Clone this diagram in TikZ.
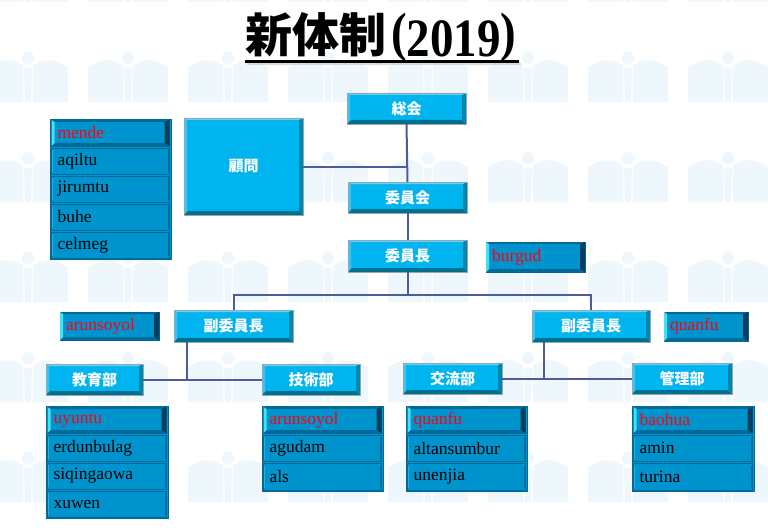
\documentclass[tikz,border=0pt]{standalone}
\usepackage{fontspec}
\newfontfamily\cjk{Noto Sans CJK JP}
\newfontfamily\tms{Liberation Serif}
\usetikzlibrary{calc}
\definecolor{bfill}{HTML}{00B4F0}
\definecolor{bdark}{HTML}{00708F}
\definecolor{bedge}{HTML}{0088AC}
\definecolor{blight}{HTML}{5AD4FA}
\definecolor{bgray}{HTML}{9AA4AA}
\definecolor{lfill}{HTML}{0094CE}
\definecolor{ldark}{HTML}{006A98}
\definecolor{lhi}{HTML}{28B0E2}
\definecolor{lnavy}{HTML}{0A3E5C}
\definecolor{lcyan}{HTML}{40E2F4}
\definecolor{conn}{HTML}{4E5C9C}
\definecolor{wm}{HTML}{EDF7FC}
\definecolor{redtxt}{HTML}{FF0010}
\tikzset{
  bst/.style={rectangle, fill=bfill, draw=bgray, line width=0.8pt, outer sep=0pt, inner sep=0pt,
    text=white, font=\cjk\bfseries\fontsize{15}{15}\selectfont},
  cellst/.style={rectangle, fill=lfill, draw=ldark, line width=0.8pt, outer sep=0pt,
    inner xsep=6pt, inner ysep=0pt, align=left, text=black, font=\tms\fontsize{17.5}{17.5}\selectfont},
  contst/.style={fill=lfill, draw=ldark, line width=0.8pt},
  connst/.style={draw=conn, line width=2pt},
}
% bright bevelled box: name, x1, y1, x2, y2, text
\newcommand\brightbox[6]{%
  \pgfmathsetmacro\bw{#4-#2}\pgfmathsetmacro\bh{#5-#3}%
  \pgfmathsetmacro\bx{(#2+#4)/2}\pgfmathsetmacro\by{(#3+#5)/2}%
  \node[bst, minimum width=\bw, minimum height=\bh] (#1) at (\bx,\by) {#6};
  \fill[blight] (#1.north west) -- (#1.north east) -- ($(#1.north east)+(-2,2)$) -- ($(#1.north west)+(2,2)$) -- cycle;
  \fill[blight!60!bfill] (#1.north west) -- ($(#1.north west)+(3,3)$) -- ($(#1.south west)+(3,-3)$) -- (#1.south west) -- cycle;
  \fill[bdark] (#1.south west) -- (#1.south east) -- ($(#1.south east)+(-4,-4)$) -- ($(#1.south west)+(4,-4)$) -- cycle;
  \fill[bedge] (#1.north east) -- (#1.south east) -- ($(#1.south east)+(-4,-4)$) -- ($(#1.north east)+(-4,2)$) -- cycle;
  \draw[bgray, line width=0.8pt] (#1.north west) rectangle (#1.south east);
}
% plain list cell
\newcommand\cell[6]{%
  \pgfmathsetmacro\cw{#4-#2}\pgfmathsetmacro\ch{#5-#3}%
  \pgfmathsetmacro\cx{(#2+#4)/2}\pgfmathsetmacro\cy{(#3+#5)/2}%
  \pgfmathsetmacro\tw{#4-#2-12}%
  \node[cellst, minimum width=\cw, minimum height=\ch, text width=\tw pt] (#1) at (\cx,\cy) {#6};
  \draw[lhi, line width=1pt] ($(#1.north west)+(1.2,2)$) -- ($(#1.south west)+(1.2,-2)$);
  \draw[ldark, line width=1pt] ($(#1.north east)+(-1.4,2)$) -- ($(#1.south east)+(-1.4,-2)$);
}
% header cell, red text
\newcommand\hcell[6]{%
  \pgfmathsetmacro\cw{#4-#2}\pgfmathsetmacro\ch{#5-#3}%
  \pgfmathsetmacro\cx{(#2+#4)/2}\pgfmathsetmacro\cy{(#3+#5)/2}%
  \pgfmathsetmacro\tw{#4-#2-12}%
  \node[cellst, text=redtxt, minimum width=\cw, minimum height=\ch, text width=\tw pt] (#1) at (\cx,\cy) {#6};
  \fill[ldark] (#1.north west) -- (#1.north east) -- ($(#1.north east)+(-5,2)$) -- ($(#1.north west)+(3,2)$) -- cycle;
  \fill[ldark] (#1.south west) -- (#1.south east) -- ($(#1.south east)+(-5,-3)$) -- ($(#1.south west)+(3,-3)$) -- cycle;
  \fill[lcyan] (#1.north west) -- ($(#1.north west)+(3,2)$) -- ($(#1.south west)+(3,-3)$) -- (#1.south west) -- cycle;
  \fill[lnavy] (#1.north east) -- (#1.south east) -- ($(#1.south east)+(-5,-3)$) -- ($(#1.north east)+(-5,2)$) -- cycle;
}
\begin{document}
\begin{tikzpicture}[x=1pt,y=-1pt]
\useasboundingbox (0,0) rectangle (768,532);
\fill[white] (0,0) rectangle (768,532);
% watermark tiles
\foreach \i in {0,...,7}{
  \foreach \j in {0,...,5}{
    \begin{scope}[shift={(28+100*\i,-22+100*\j)}]
      \fill[wm] (-40,-10) .. controls (-28,-20) and (-14,-20) .. (-5,-12) -- (-5,24) -- (-40,24) -- cycle;
      \fill[wm] (40,-10) .. controls (28,-20) and (14,-20) .. (5,-12) -- (5,24) -- (40,24) -- cycle;
      \fill[wm] (0,-20) circle (6);
      \fill[wm] (-4,-10) -- (4,-10) -- (3,24) -- (-3,24) -- cycle;
    \end{scope}
  }
}
% title
\draw[gray!30, line width=2.5pt] (247,64) -- (521,64);
\node[anchor=base west, inner sep=0pt, font=\cjk\bfseries\fontsize{47}{47}\selectfont] (title1) at (245,53) {新体制};
\node[anchor=base west, inner sep=0pt, font=\tms\bfseries\fontsize{54}{54}\selectfont] (title2) at (391,57)
  {\scalebox{0.87}[1]{\raisebox{6pt}{(}2019\raisebox{6pt}{)}}};
\draw[black, line width=2.5pt] (245,61.5) -- (519,61.5);

% bright boxes
\brightbox{sokai}{347}{93}{466}{124}{総会}
\brightbox{komon}{184}{118}{303}{215}{顧問}
\brightbox{iinkai}{348}{182}{467}{213}{委員会}
\brightbox{iincho}{348}{240}{467}{272}{委員長}
\brightbox{fuL}{174}{310}{293}{342}{副委員長}
\brightbox{fuR}{532}{310}{650}{342}{副委員長}
\brightbox{kyoiku}{46}{364}{143}{395}{教育部}
\brightbox{gijutsu}{262}{364}{360}{395}{技術部}
\brightbox{koryu}{403}{363}{502}{394}{交流部}
\brightbox{kanri}{632}{363}{732}{394}{管理部}

% red single boxes
\hcell{burgud}{486}{242}{585}{272}{burgud}
\hcell{arunL}{60}{312}{159}{340}{arunsoyol}
\hcell{quanR}{664}{312}{748}{341}{quanfu}

% connectors
\draw[connst] (sokai.south) -- (iinkai.north);
\draw[connst] (komon.east) -- (komon.east -| sokai.south);
\draw[connst] (iinkai.south) -- (iincho.north);
\coordinate (j1) at (407.5,295);
\draw[connst] (iincho.south) -- (j1);
\draw[connst] (fuL.north) |- (j1) -| (fuR.north);
\coordinate (j2) at (187,379.5);
\draw[connst] (fuL.south -| j2) -- (j2);
\draw[connst] (kyoiku.east) -- (gijutsu.west);
\coordinate (j3) at (544,378.5);
\draw[connst] (fuR.south -| j3) -- (j3);
\draw[connst] (koryu.east) -- (kanri.west);

% list: mende
\filldraw[contst] (50,119) rectangle (171,259);
\hcell{m1}{51.5}{120}{169.5}{146}{mende}
\cell{m2}{51.5}{148}{169.5}{174}{aqiltu}
\cell{m3}{51.5}{176}{169.5}{202}{jirumtu}
\cell{m4}{51.5}{204}{169.5}{230}{buhe}
\cell{m5}{51.5}{232}{169.5}{258}{celmeg}

% list: uyuntu
\filldraw[contst] (46,406) rectangle (168,518);
\hcell{u1}{47.5}{407}{166.5}{433}{uyuntu}
\cell{u2}{47.5}{435}{166.5}{461}{erdunbulag}
\cell{u3}{47.5}{463}{166.5}{489}{siqingaowa}
\cell{u4}{47.5}{491}{166.5}{517}{xuwen}

% list: arunsoyol
\filldraw[contst] (262,406) rectangle (383,491);
\hcell{a1}{263.5}{407}{381.5}{433}{arunsoyol}
\cell{a2}{263.5}{435}{381.5}{461.5}{agudam}
\cell{a3}{263.5}{463.5}{381.5}{490}{als}

% list: quanfu
\filldraw[contst] (406,406) rectangle (527,491);
\hcell{q1}{407.5}{407}{525.5}{433}{quanfu}
\cell{q2}{407.5}{435}{525.5}{461.5}{altansumbur}
\cell{q3}{407.5}{463.5}{525.5}{490}{unenjia}

% list: baohua
\filldraw[contst] (632,406) rectangle (754,491);
\hcell{b1}{633.5}{407}{752.5}{433}{baohua}
\cell{b2}{633.5}{435}{752.5}{461.5}{amin}
\cell{b3}{633.5}{463.5}{752.5}{490}{turina}
\end{tikzpicture}
\end{document}
